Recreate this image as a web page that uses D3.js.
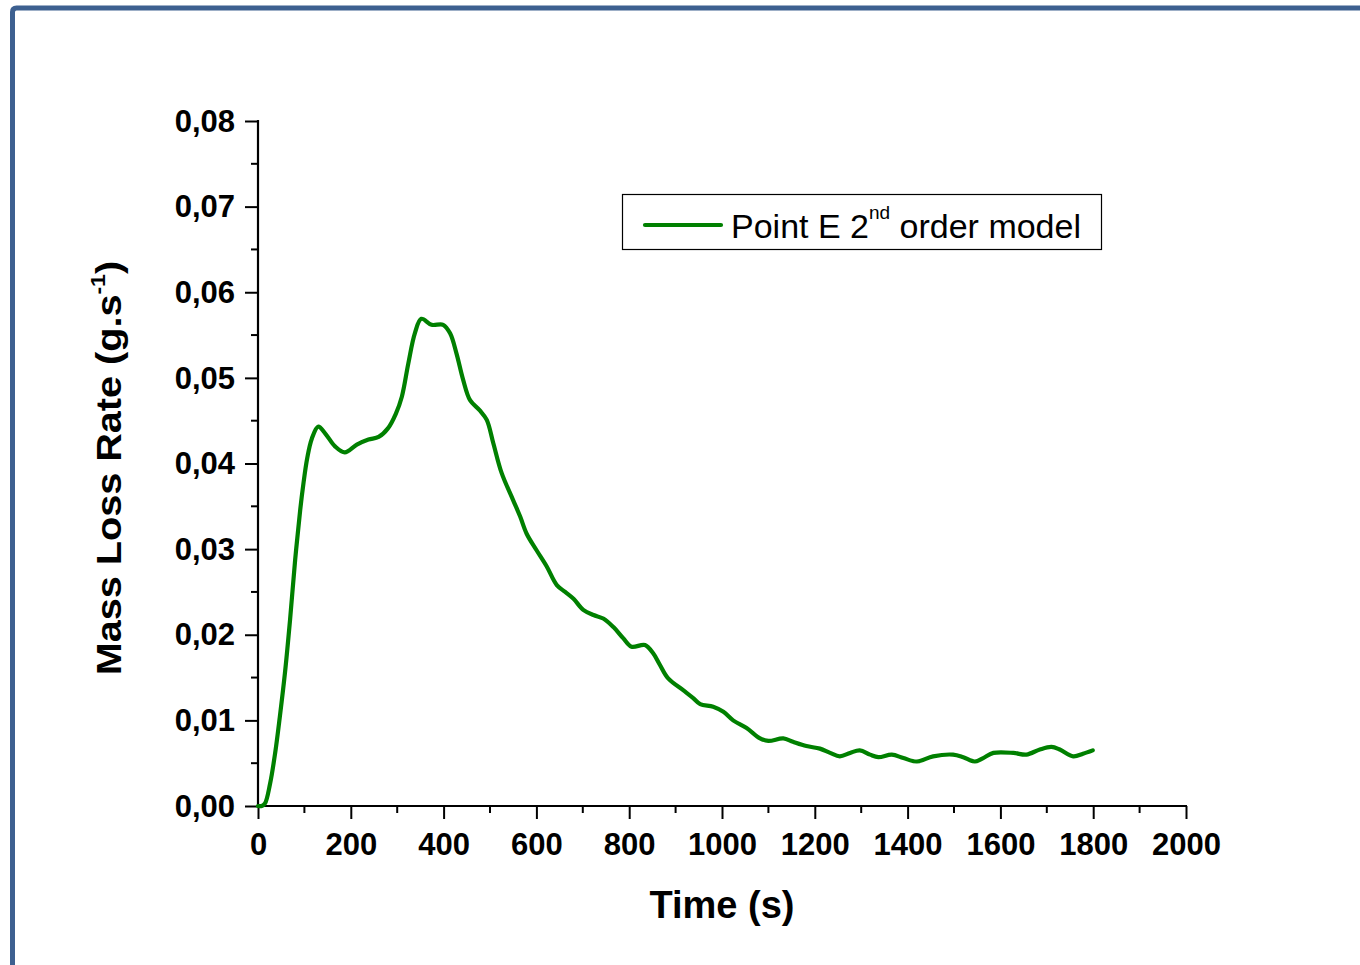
<!DOCTYPE html>
<html>
<head>
<meta charset="utf-8">
<script src="https://cdn.jsdelivr.net/npm/d3@7"></script>
<style>
html,body{margin:0;padding:0;background:#fff;}
svg{display:block;font-family:"Liberation Sans",Arial,Helvetica,sans-serif;}
</style>
</head>
<body>
<svg id="chart" width="1360" height="965"></svg>
<script>
// ---- data ----
const times = [0,8,15,26,37,47,58,69,80,91,98,106,116,130,145,166,187,213,238,260,280,297,310,324,338,352,374,399,414,428,442,457,478,493,507,525,550,565,579,600,622,644,662,680,701,723,744,766,787,805,834,852,866,884,917,938,953,981,1003,1024,1053,1082,1100,1132,1153,1182,1211,1233,1254,1276,1297,1319,1337,1366,1391,1420,1455,1498,1520,1545,1563,1585,1628,1656,1685,1710,1728,1757,1778,1799];
const massLoss = [0,0,0.0003,0.0026,0.0062,0.0104,0.0155,0.0217,0.0287,0.0346,0.0377,0.0406,0.0429,0.0443,0.0435,0.042,0.0413,0.0422,0.0428,0.0431,0.0441,0.0458,0.0478,0.0517,0.0552,0.0569,0.0562,0.0562,0.0552,0.0528,0.0498,0.0474,0.0462,0.0451,0.0424,0.0389,0.0357,0.0338,0.0318,0.0299,0.028,0.0258,0.025,0.0242,0.0229,0.0223,0.0219,0.0209,0.0196,0.0186,0.0188,0.0178,0.0165,0.0149,0.0135,0.0126,0.0119,0.0116,0.011,0.01,0.0091,0.0079,0.0076,0.0079,0.0075,0.007,0.0067,0.0062,0.0058,0.0062,0.0065,0.006,0.0057,0.006,0.0056,0.0052,0.0058,0.006,0.0057,0.0052,0.0056,0.0062,0.0062,0.006,0.0066,0.0069,0.0066,0.0058,0.0061,0.0065];
const xTicks = [0,200,400,600,800,1000,1200,1400,1600,1800,2000];
const yTicks = [0,0.01,0.02,0.03,0.04,0.05,0.06,0.07,0.08];
const seriesName = "Point E 2";
const seriesSup = "nd";
const seriesTail = " order model";

// ---- layout ----
const svg = d3.select("#chart");
const x = d3.scaleLinear().domain([0,2000]).range([258,1186]);
const y = d3.scaleLinear().domain([0,0.08]).range([806,121]);
const green = "#008000";

// frame border (top and left)
svg.append("path")
  .attr("d","M12.5,965 L12.5,12 Q12.5,8 16.5,8 L1360,8")
  .attr("fill","none").attr("stroke","#3d6090").attr("stroke-width",5);

const xMinor = d3.range(100,2000,200);
const yMinor = d3.range(0.005,0.08,0.01);

const gx = svg.append("g").attr("transform","translate(0,806)");
gx.call(d3.axisBottom(x).tickValues(xTicks).tickSize(13).tickSizeOuter(0).tickFormat(d3.format("d")));
gx.append("g").selectAll("line").data(xMinor).join("line")
  .attr("x1",d=>x(d)).attr("x2",d=>x(d)).attr("y1",0).attr("y2",7)
  .attr("stroke","#000").attr("stroke-width",2);
gx.select(".domain").attr("stroke-width",2.2).attr("d","M257,0H1187");
gx.selectAll(".tick line").attr("stroke-width",2);
gx.selectAll(".tick text").attr("font-size",31).attr("font-weight","bold").attr("y",27).attr("dy","0.71em").attr("fill","#000");

const gy = svg.append("g").attr("transform","translate(258,0)");
gy.call(d3.axisLeft(y).tickValues(yTicks).tickSize(13).tickSizeOuter(0).tickFormat(d=>d3.format(".2f")(d).replace(".",",")));
gy.append("g").selectAll("line").data(yMinor).join("line")
  .attr("y1",d=>y(d)).attr("y2",d=>y(d)).attr("x1",0).attr("x2",-7)
  .attr("stroke","#000").attr("stroke-width",2);
gy.select(".domain").attr("stroke-width",2.2).attr("d","M0,120V807");
gy.selectAll(".tick line").attr("stroke-width",2);
gy.selectAll(".tick text").attr("font-size",31).attr("font-weight","bold").attr("x",-23).attr("dy","0.33em").attr("fill","#000");

// line
const line = d3.line().x((d,i)=>x(times[i])).y((d,i)=>y(massLoss[i])).curve(d3.curveCatmullRom.alpha(0.5));
svg.append("path").datum(massLoss).attr("d",line)
  .attr("fill","none").attr("stroke",green).attr("stroke-width",4.2)
  .attr("stroke-linejoin","round").attr("stroke-linecap","round");

// axis titles
svg.append("text").attr("x",722).attr("y",918).attr("text-anchor","middle")
  .attr("font-size",38).attr("font-weight","bold").text("Time (s)");

const yt = svg.append("text").attr("transform","translate(121,468) rotate(-90) scale(1.1,1)")
  .attr("text-anchor","middle").attr("font-size",36).attr("font-weight","bold");
yt.append("tspan").text("Mass Loss Rate (g.s");
yt.append("tspan").attr("font-size",21).attr("dy",-16).text("-1");
yt.append("tspan").attr("dy",16).text(")");

// legend
const lg = svg.append("g");
lg.append("rect").attr("x",622.5).attr("y",194.5).attr("width",479).attr("height",55)
  .attr("fill","#fff").attr("stroke","#000").attr("stroke-width",1.2);
lg.append("line").attr("x1",645).attr("x2",721).attr("y1",225).attr("y2",225)
  .attr("stroke",green).attr("stroke-width",4.2).attr("stroke-linecap","round");
const lt = lg.append("text").attr("x",731).attr("y",238).attr("font-size",34);
lt.append("tspan").text(seriesName);
lt.append("tspan").attr("font-size",19).attr("dy",-19).text(seriesSup);
lt.append("tspan").attr("dy",19).text(seriesTail);
</script>
</body>
</html>
